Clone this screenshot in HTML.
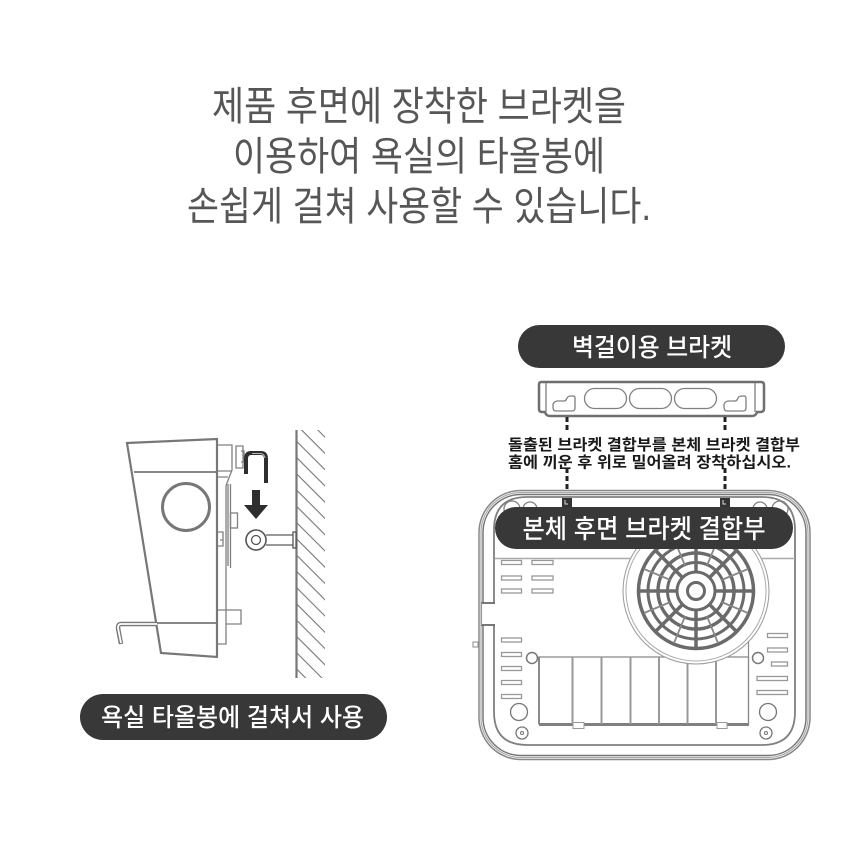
<!DOCTYPE html>
<html lang="ko"><head><meta charset="utf-8"><title>브라켓</title>
<style>html,body{margin:0;padding:0;background:#fff}svg{display:block}
text{font-family:"Liberation Sans","Noto Sans CJK KR",sans-serif}
.t{font-size:40px;font-weight:400;fill:#565656;text-anchor:middle}
.p{font-weight:500;fill:#fff;text-anchor:middle}
.g{fill:none;stroke:#808080;stroke-width:1.3}
.h{fill:none;stroke:#777;stroke-width:2.2}
.v{fill:#fff;stroke:#999;stroke-width:1.3}
</style></head><body>
<svg width="860" height="856" viewBox="0 0 860 856" xmlns="http://www.w3.org/2000/svg">
<defs>
<pattern id="hatch" width="11.5" height="11.5" patternUnits="userSpaceOnUse" patternTransform="rotate(45 296 430)"><line x1="0" y1="0" x2="11.5" y2="0" stroke="#777" stroke-width="2.2"/></pattern>
</defs>
<rect width="860" height="856" fill="#fff"/>
<text class="t" x="419" y="120" textLength="414" lengthAdjust="spacingAndGlyphs">제품 후면에 장착한 브라켓을</text>
<text class="t" x="419" y="170" textLength="372" lengthAdjust="spacingAndGlyphs">이용하여 욕실의 타올봉에</text>
<text class="t" x="419" y="220" textLength="464" lengthAdjust="spacingAndGlyphs">손쉽게 걸쳐 사용할 수 있습니다.</text>

<!-- left diagram -->
<rect x="296" y="430" width="29" height="248" fill="url(#hatch)"/>
<line x1="296.500" y1="430" x2="296.500" y2="678" stroke="#777" stroke-width="2.200"/>
<path class="g" d="M217 445H232V470L227 483L226 486V610" stroke-width="1.800"/>
<path class="g" d="M217 471H232M217 477H228"/>
<path class="g" d="M228 484V566M230.500 484V568" stroke-width="1.600"/>
<path class="g" d="M236 446V468H243V446ZM241 462H244V451H241" stroke-width="1.500"/>
<rect class="g" x="230.500" y="513" width="7" height="15" stroke-width="1.500"/>
<path class="g" d="M217 532H223V546H217M220 540H223" stroke-width="1.500"/>
<path class="g" d="M217 610H226V644H217M226 610H241V624H226" stroke-width="1.800"/>
<path class="h" d="M127 443L217 439V657L161 653Z" stroke-width="2"/>
<line x1="134" y1="472" x2="217" y2="472" stroke="#777" stroke-width="1.800"/>
<line x1="156" y1="623" x2="217" y2="623" stroke="#777" stroke-width="1.800"/>
<circle cx="186" cy="507" r="23.500" fill="none" stroke="#777" stroke-width="3"/>
<path d="M157 624H121Q118 624 118 628L121 644" fill="none" stroke="#777" stroke-width="4.500"/>
<path d="M157 624H121Q118 624 118 628L121 643" fill="none" stroke="#fff" stroke-width="1.800"/>
<path d="M246 474V459Q246 453 251 453H261Q266 453 266 459V483" fill="none" stroke="#2e2e2e" stroke-width="4"/>
<path d="M252 453.500H260Q264 453.500 265 458" fill="none" stroke="#bbb" stroke-width="1"/>
<path d="M252 490H260V505H268L256 519L244 505H252Z" fill="#2e2e2e"/>
<circle cx="256" cy="540" r="10" fill="#fff" stroke="#555" stroke-width="1.600"/>
<circle cx="256" cy="540" r="4.500" fill="#fff" stroke="#555" stroke-width="1.300"/>
<path d="M266 535H293M266 545H293" stroke="#777" stroke-width="1.400"/>
<rect x="293" y="532" width="3" height="16" fill="#fff" stroke="#555" stroke-width="1.300"/>
<rect x="80" y="694" width="307" height="46" rx="23" fill="#383838"/>
<text class="p" x="232.500" y="726" font-size="25" textLength="263" lengthAdjust="spacingAndGlyphs">욕실 타올봉에 걸쳐서 사용</text>

<!-- bracket -->
<rect x="518" y="325" width="267" height="43" rx="21.500" fill="#383838"/>
<text class="p" x="652" y="356" font-size="25" textLength="160" lengthAdjust="spacingAndGlyphs">벽걸이용 브라켓</text>
<path d="M541 382H761Q764 382 764 385V409Q764 412 760 412H757Q756 416 752 416H550Q546 416 545 412H542Q539 412 539 409V385Q539 382 541 382Z" fill="#fff" stroke="#6f6f6f" stroke-width="2.500"/>
<path class="g" d="M546 383V412M755 383V412"/>
<rect class="g" x="584.500" y="388.500" width="42" height="20" rx="10"/>
<rect class="g" x="629.500" y="388.500" width="42" height="20" rx="10"/>
<rect class="g" x="674.500" y="388.500" width="42" height="20" rx="10"/>
<path class="g" stroke-width="1.800" d="M556 411Q553 411 553 407V405Q553 402 557 401H564Q566 401 567 398Q568 396 571 396H573Q575 396 575 398V408Q575 411 572 411Z"/>
<path class="g" stroke-width="1.800" d="M727 411Q724 411 724 407V405Q724 402 728 401H735Q737 401 738 398Q739 396 742 396H744Q746 396 746 398V408Q746 411 743 411Z"/>
<g fill="#1a1a1a" font-weight="700" font-size="15.500">
<text x="508" y="450" textLength="292" lengthAdjust="spacingAndGlyphs">돌출된 브라켓 결합부를 본체 브라켓 결합부</text>
<text x="508" y="467.500" textLength="283" lengthAdjust="spacingAndGlyphs">홈에 끼운 후 위로 밀어올려 장착하십시오.</text>
</g>
<path d="M567 417V431M567 468V505M725 417V431M725 468V505" stroke="#222" stroke-width="3" stroke-dasharray="5 3"/>

<!-- housing -->
<rect x="479" y="490.500" width="331" height="269" rx="42" fill="#fff" stroke="#888" stroke-width="1.500"/>
<rect x="481" y="492.500" width="327" height="265" rx="40" fill="none" stroke="#aaa" stroke-width="1.200"/>
<rect x="483" y="494.500" width="323" height="261" rx="38" fill="none" stroke="#777" stroke-width="1.500"/>
<path d="M494 603V712Q494 745 527 745H762Q795 745 795 712V530Q795 497 762 497H527Q494 497 494 530V603Z" fill="#fff" stroke="#808080" stroke-width="1.800"/>
<rect x="482" y="603" width="14" height="22" fill="#fff"/>
<path d="M481 603H495M481 625H495" stroke="#666" stroke-width="1.800"/>
<path d="M481.500 603V625" stroke="#999" stroke-width="1.200"/>
<rect x="473" y="642" width="5" height="5" fill="#fff" stroke="#888"/>
<line x1="495" y1="558.500" x2="795" y2="558.500" stroke="#aaa" stroke-width="1.500"/>
<circle cx="512" cy="509" r="8" class="g"/><circle cx="530" cy="509" r="7" class="g"/>
<circle cx="760" cy="509" r="7" class="g"/><circle cx="780" cy="509" r="8" class="g"/>
<g>
<rect class="v" x="501.500" y="560.500" width="20" height="4"/><rect class="v" x="532" y="560.500" width="21" height="4"/>
<rect class="v" x="501.500" y="576" width="20" height="4"/><rect class="v" x="532" y="576" width="21" height="4"/>
<rect class="v" x="501.500" y="589" width="20" height="4"/><rect class="v" x="532" y="589" width="21" height="4"/>
<rect class="v" x="501.500" y="638" width="20" height="4"/><rect class="v" x="501.500" y="652.500" width="20" height="4"/>
<rect class="v" x="501.500" y="666.500" width="20" height="4"/><rect class="v" x="501.500" y="680.500" width="20" height="4"/><rect class="v" x="501.500" y="694.500" width="20" height="4"/>
<rect class="v" x="767.500" y="633.500" width="20" height="4"/><rect class="v" x="767.500" y="648" width="20" height="4"/>
<rect class="v" x="771.500" y="662" width="16" height="4"/><rect class="v" x="757" y="676.500" width="30.500" height="4"/><rect class="v" x="757" y="690.500" width="30.500" height="4"/>
</g>
<!-- ribs -->
<path d="M539 657H748.500V724H539Z" fill="#fff" stroke="#888" stroke-width="1.200"/>
<path d="M748.500 640V724" stroke="#888" stroke-width="1.200"/>
<path d="M539 724.500H749" stroke="#808080" stroke-width="3"/>
<path d="M539 657V724" stroke="#808080" stroke-width="1.800"/>
<path d="M572.500 657V724M601.500 657V724M630.500 657V724M659 657V724M687.500 657V724M716 657V724" stroke="#999" stroke-width="2"/>
<rect x="573" y="722.500" width="11" height="6" fill="#fff" stroke="#999"/>
<rect x="717" y="722.500" width="10" height="6" fill="#fff" stroke="#999"/>
<circle cx="532" cy="658" r="5.500" fill="#fff" stroke="#777" stroke-width="1.500"/>
<circle cx="758" cy="658" r="5.500" fill="#fff" stroke="#777" stroke-width="1.500"/>
<circle cx="519" cy="712" r="8.500" fill="#fff" stroke="#777" stroke-width="1.300"/>
<circle cx="768" cy="712" r="8.500" fill="#fff" stroke="#777" stroke-width="1.300"/>
<circle cx="522" cy="733" r="6" fill="#fff" stroke="#777" stroke-width="1.300"/><circle cx="522" cy="733" r="1.500" fill="none" stroke="#777"/>
<circle cx="766" cy="733" r="6" fill="#fff" stroke="#777" stroke-width="1.300"/><circle cx="766" cy="733" r="1.500" fill="none" stroke="#777"/>
<!-- fan -->
<circle cx="696" cy="591" r="73" fill="#fff" stroke="#999" stroke-width="1"/>
<circle cx="696" cy="591" r="70" fill="#fff" stroke="#aaa" stroke-width="1"/>
<g fill="none" stroke="#6a6a6a">
<circle cx="696" cy="591" r="57.500" stroke-width="3.500"/>
<circle cx="696" cy="591" r="48" stroke-width="3"/>
<circle cx="696" cy="591" r="38" stroke-width="3.500"/>
<circle cx="696" cy="591" r="28.500" stroke-width="3"/>
<circle cx="696" cy="591" r="19" stroke-width="3"/>
<circle cx="696" cy="591" r="8.500" stroke-width="3"/>
<g stroke-width="3.500">
<path d="M696 572V533M696 610V649M677 591H638M715 591H754"/>
<path d="M682.600 577.600L655 550M709.400 577.600L737 550M682.600 604.400L655 632M709.400 604.400L737 632"/>
</g>
<g stroke-width="1.800" stroke="#888">
<path d="M685 565.500L674 539M707 565.500L718 539M685 616.500L674 643M707 616.500L718 643M670.500 580L644 569M721.500 580L748 569M670.500 602L644 613M721.500 602L748 613"/>
</g>
</g>
<!-- middle label -->
<rect x="562" y="498" width="10" height="9" fill="#333"/><rect x="720" y="498" width="10" height="9" fill="#333"/>
<path d="M565 500V504H568M723 500V504H726" stroke="#ddd" fill="none"/>
<rect x="495" y="507" width="298" height="42" rx="21" fill="#383838"/>
<text class="p" x="644" y="538" font-size="26" textLength="243" lengthAdjust="spacingAndGlyphs">본체 후면 브라켓 결합부</text>
</svg>
</body></html>
